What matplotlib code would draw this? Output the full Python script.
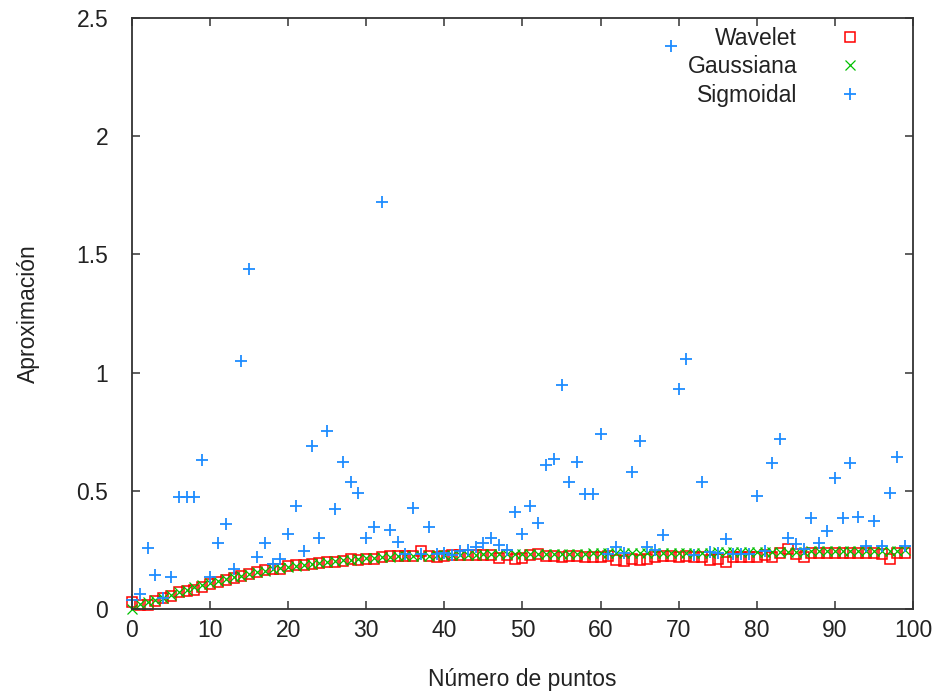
import numpy as np
import matplotlib
matplotlib.use('Agg')
import matplotlib.pyplot as plt
from matplotlib.ticker import MultipleLocator, FuncFormatter

# valores (x = 0..99)
puntos = list(range(100))

wavelet = [
    0.030, 0.020, 0.020, 0.035, 0.048, 0.055, 0.072, 0.076, 0.083, 0.097,
    0.107, 0.118, 0.126, 0.133, 0.140, 0.148, 0.158, 0.165, 0.170, 0.172,
    0.183, 0.187, 0.190, 0.193, 0.195, 0.200, 0.200, 0.205, 0.212, 0.210,
    0.215, 0.215, 0.220, 0.225, 0.225, 0.225, 0.225, 0.245, 0.225, 0.222,
    0.228, 0.230, 0.232, 0.232, 0.232, 0.232, 0.232, 0.218, 0.232, 0.215,
    0.218, 0.230, 0.235, 0.228, 0.225, 0.222, 0.225, 0.225, 0.220, 0.222,
    0.220, 0.225, 0.210, 0.205, 0.215, 0.210, 0.212, 0.220, 0.225, 0.225,
    0.220, 0.225, 0.220, 0.220, 0.210, 0.215, 0.200, 0.222, 0.222, 0.222,
    0.222, 0.230, 0.220, 0.240, 0.255, 0.235, 0.220, 0.238, 0.238, 0.238,
    0.238, 0.238, 0.238, 0.240, 0.240, 0.240, 0.235, 0.215, 0.240, 0.240,
]

gaussiana = [
    0.003, 0.025, 0.030, 0.040, 0.050, 0.062, 0.073, 0.083, 0.093, 0.103,
    0.112, 0.120, 0.128, 0.136, 0.143, 0.150, 0.157, 0.163, 0.169, 0.175,
    0.180, 0.185, 0.190, 0.194, 0.198, 0.202, 0.205, 0.208, 0.211, 0.214,
    0.216, 0.218, 0.220, 0.222, 0.224, 0.225, 0.226, 0.227, 0.228, 0.229,
    0.230, 0.231, 0.231, 0.232, 0.232, 0.233, 0.233, 0.233, 0.234, 0.234,
    0.234, 0.235, 0.235, 0.235, 0.235, 0.236, 0.236, 0.236, 0.236, 0.237,
    0.237, 0.237, 0.237, 0.238, 0.238, 0.238, 0.238, 0.239, 0.239, 0.239,
    0.239, 0.240, 0.240, 0.240, 0.240, 0.241, 0.241, 0.241, 0.242, 0.242,
    0.242, 0.243, 0.243, 0.243, 0.244, 0.244, 0.244, 0.245, 0.245, 0.245,
    0.246, 0.246, 0.246, 0.247, 0.247, 0.248, 0.248, 0.248, 0.249, 0.250,
]

sigmoidal = [
    0.040, 0.065, 0.260, 0.145, 0.048, 0.138, 0.475, 0.475, 0.475, 0.630,
    0.138, 0.280, 0.360, 0.170, 1.050, 1.440, 0.220, 0.280, 0.193, 0.213,
    0.320, 0.435, 0.245, 0.690, 0.300, 0.755, 0.423, 0.623, 0.540, 0.490,
    0.300, 0.348, 1.720, 0.334, 0.285, 0.234, 0.430, 0.234, 0.348, 0.234,
    0.238, 0.231, 0.245, 0.250, 0.264, 0.280, 0.300, 0.274, 0.250, 0.410,
    0.320, 0.435, 0.367, 0.610, 0.637, 0.946, 0.537, 0.625, 0.487, 0.487,
    0.743, 0.234, 0.265, 0.240, 0.580, 0.710, 0.265, 0.250, 0.316, 2.380,
    0.930, 1.057, 0.230, 0.540, 0.242, 0.240, 0.296, 0.234, 0.234, 0.234,
    0.480, 0.248, 0.618, 0.718, 0.300, 0.275, 0.255, 0.386, 0.280, 0.330,
    0.555, 0.386, 0.618, 0.390, 0.270, 0.372, 0.270, 0.490, 0.643, 0.270,
]

x_ticks = [0, 10, 20, 30, 40, 50, 60, 70, 80, 90, 100]

plt.rcParams['font.family'] = ['Liberation Sans', 'DejaVu Sans']
fsize = 16.5
gris = '#333333'

fig = plt.figure(figsize=(9.38, 6.98), dpi=100)
ax = fig.add_axes([0.1407, 0.1268, 0.8326, 0.8481])

ax.plot(puntos, wavelet, ls='none', marker='s', ms=6.5, mfc='none',
        mec='#ff0000', mew=1.1, label='Wavelet', clip_on=False)
ax.plot(puntos, gaussiana, ls='none', marker='x', ms=6.5,
        color='#00c000', mew=0.9, label='Gaussiana', clip_on=False)
ax.plot(puntos, sigmoidal, ls='none', marker='+', ms=8.0,
        color='#1e8cff', mew=1.3, label='Sigmoidal', clip_on=False)

ax.set_xlim(0, 100)
ax.set_ylim(0, 2.5)
ax.set_xticks(x_ticks)
ax.yaxis.set_major_locator(MultipleLocator(0.5))
ax.yaxis.set_major_formatter(FuncFormatter(lambda v, p: '%g' % v))

for s in ax.spines.values():
    s.set_color(gris)
    s.set_linewidth(1.3)

ax.tick_params(axis='both', direction='in', length=6, width=1.1,
               color=gris, labelsize=fsize, labelcolor='#222222',
               top=True, right=True)
ax.tick_params(axis='x', pad=7)
ax.tick_params(axis='y', pad=17)

ax.set_xlabel('Número de puntos', fontsize=fsize, color='#222222')
ax.set_ylabel('Aproximación', fontsize=fsize, color='#222222')
ax.xaxis.set_label_coords(0.5, -0.098)
ax.yaxis.set_label_coords(-0.118, 0.5)

leg = ax.legend(loc='upper right', bbox_to_anchor=(0.975, 1.0),
                frameon=False, markerfirst=False,
                numpoints=1, fontsize=fsize, handlelength=3.0,
                handletextpad=0.8, labelspacing=0.24,
                borderaxespad=0.0, borderpad=0.4)
for t in leg.get_texts():
    t.set_color('#222222')

fig.savefig('out.png', dpi=100)
plt.close()
